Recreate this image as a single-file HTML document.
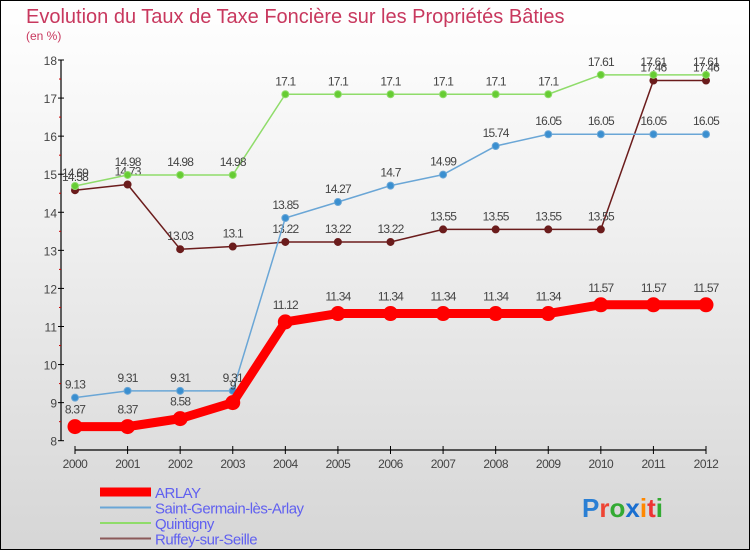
<!DOCTYPE html>
<html><head><meta charset="utf-8"><style>
html,body{margin:0;padding:0}
body{width:750px;height:550px;overflow:hidden;font-family:"Liberation Sans",sans-serif}
#wrap{position:relative;width:748px;height:548px;border:1px solid #000;background:linear-gradient(#fff 0%,#f0f0f0 40%,#d6d6d6 100%)}
</style></head><body>
<div id="wrap">
<svg id="chart" width="748" height="548" viewBox="1 1 748 548" style="position:absolute;left:0;top:0">
<text x="26" y="23" font-size="20" fill="#c8385e">Evolution du Taux de Taxe Foncière sur les Propriétés Bâties</text>
<text x="26" y="40" font-size="12" fill="#c8385e">(en %)</text>
<g id="axes"></g>
<g id="series"></g>
<g id="legend"></g>
<text x="582" y="517" font-size="26" font-weight="bold"><tspan fill="#2a7fd4">P</tspan><tspan fill="#e43">r</tspan><tspan fill="#3a3">o</tspan><tspan fill="#1a6fd0">x</tspan><tspan fill="#f80">i</tspan><tspan fill="#e33">t</tspan><tspan fill="#3a3">i</tspan></text>
</svg>
</div>
<script>
const years=[2000,2001,2002,2003,2004,2005,2006,2007,2008,2009,2010,2011,2012];
const yTicks=[8,9,10,11,12,13,14,15,16,17,18];
const arlay=[8.37,8.37,8.58,9.0,11.12,11.34,11.34,11.34,11.34,11.34,11.57,11.57,11.57];
const stGermain=[9.13,9.31,9.31,9.31,13.85,14.27,14.7,14.99,15.74,16.05,16.05,16.05,16.05];
const quintigny=[14.69,14.98,14.98,14.98,17.1,17.1,17.1,17.1,17.1,17.1,17.61,17.61,17.61];
const ruffey=[14.58,14.73,13.03,13.1,13.22,13.22,13.22,13.55,13.55,13.55,13.55,17.46,17.46];
const seriesNames=["ARLAY","Saint-Germain-lès-Arlay","Quintigny","Ruffey-sur-Seille"];
const NS="http://www.w3.org/2000/svg";
function X(i){return 75+i*(706-75)/(years.length-1);}
function Y(v){return 440.7-(v-8)*38.07;}
function mk(tag,attrs,parent,txt){const e=document.createElementNS(NS,tag);for(const k in attrs)e.setAttribute(k,attrs[k]);if(txt!==undefined)e.textContent=txt;parent.appendChild(e);return e;}
const ax=document.getElementById('axes');
let a=mk('line',{x1:61,y1:Y(18),x2:61,y2:Y(8),stroke:'#000','stroke-width':1.2},ax);

a=mk('line',{x1:75,y1:450,x2:706,y2:450,stroke:'#000','stroke-width':1.2},ax);

yTicks.forEach(v=>{mk('line',{x1:58,y1:Y(v),x2:64,y2:Y(v),stroke:'#000'},ax);
 if(v<18)mk('line',{x1:59,y1:Y(v+0.5),x2:61,y2:Y(v+0.5),stroke:'#c00'},ax);
 const t=mk('text',{x:57,y:Y(v)+5,'font-size':12,fill:'#444','text-anchor':'end'},ax,String(v));
 });
years.forEach((y,i)=>{mk('line',{x1:X(i),y1:446,x2:X(i),y2:454,stroke:'#000'},ax);
 const t=mk('text',{x:X(i),y:468,'font-size':12,fill:'#444','text-anchor':'middle','letter-spacing':'-0.5'},ax,String(y));
 });
const sg=document.getElementById('series');
const defs=[
 {d:ruffey,c:'#6b1c1c',w:1.5,r:3.5,id:'ruffey'},
 {d:quintigny,c:'#8fdc6a',w:1.5,r:3.5,id:'quintigny',fill:'#66cc33'},
 {d:stGermain,c:'#6aa6d6',w:1.5,r:3.5,id:'saint-germain',fill:'#3a8fd0'},
 {d:arlay,c:'#f00',w:9,r:7,id:'arlay'}];
defs.forEach(s=>{const g=mk('g',{},sg);
 const pts=s.d.map((v,i)=>X(i)+','+Y(v)).join(' ');
 mk('polyline',{points:pts,fill:'none',stroke:s.c,'stroke-width':s.w,'stroke-linejoin':'round'},g);
 s.d.forEach((v,i)=>{const c=mk('circle',{cx:X(i),cy:Y(v),r:s.r,fill:s.fill||s.c,stroke:s.c,'stroke-width':1},g);
  
  const t=mk('text',{x:X(i),y:Y(v)-(s.id==='arlay'?13:9),'font-size':12,fill:'#444','text-anchor':'middle','letter-spacing':'-0.8'},g,String(v===9?'9':v));
  });});
const lg=document.getElementById('legend');
const lc=['#f00','#6aa6d6','#8fdc6a','#8b5a5a'],lw=[9,2,2,2];
seriesNames.forEach((n,i)=>{const y=492+i*15.5;
 const l=mk('line',{x1:100,y1:y,x2:151,y2:y,stroke:lc[i],'stroke-width':lw[i]},lg);
 
 const t=mk('text',{x:155,y:y+6,'font-size':15,fill:'#6060f0','letter-spacing':'-0.5'},lg,n);
 });
</script>
</body></html>
